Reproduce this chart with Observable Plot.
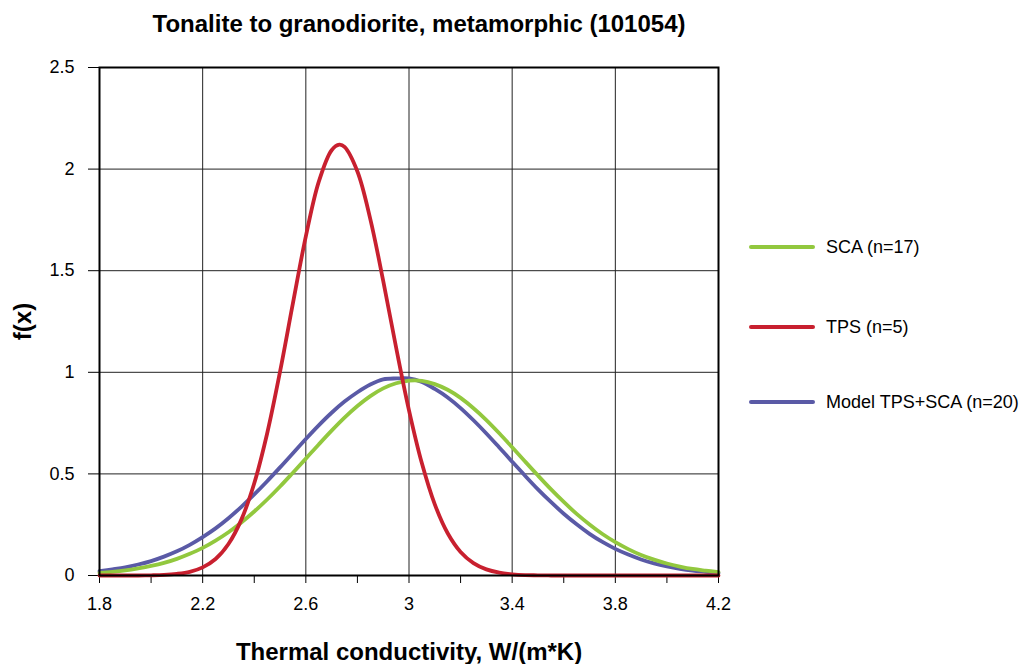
<!DOCTYPE html>
<html>
<head>
<meta charset="utf-8">
<script src="https://cdn.jsdelivr.net/npm/d3@7"></script>
<script src="https://cdn.jsdelivr.net/npm/@observablehq/plot@0.6"></script>
<style>
  html, body { margin: 0; padding: 0; background: #fff; }
  body { font-family: "Liberation Sans", Arial, Helvetica, sans-serif; }
  #wrap { position: relative; width: 1026px; height: 664px; overflow: hidden; }
  #title { position: absolute; left: 0; top: 9px; width: 838px; text-align: center;
           font-weight: bold; font-size: 24px; line-height: 30px; color: #000; }
  #chart { position: absolute; left: 0; top: 45px; }
  .leg { position: absolute; left: 749px; height: 18px; }
  .leg .sw { position: absolute; left: 0; top: 7px; width: 66px; height: 4px; border-radius: 2px; }
  .leg .lb { position: absolute; left: 77px; top: -3px; white-space: nowrap; font-size: 18px; line-height: 24px; color: #000; }
</style>
</head>
<body>
<div id="wrap">
  <div id="title"></div>
  <div id="chart"></div>
  <div id="legend"></div>
</div>
<script>
// ---- data ----
const title = "Tonalite to granodiorite, metamorphic (101054)";
const xLabel = "Thermal conductivity, W/(m*K)";
const yLabel = "f(x)";

const seriesNames = ["SCA (n=17)", "TPS (n=5)", "Model TPS+SCA (n=20)"];
const seriesColors = ["#92c83e", "#c8202f", "#5a5aa6"];

const xGrid = [1.8, 1.85, 1.9, 1.95, 2.0, 2.05, 2.1, 2.15, 2.2, 2.25, 2.3, 2.35, 2.4, 2.45, 2.5, 2.55, 2.6, 2.65, 2.7, 2.75,
  2.8, 2.85, 2.9, 2.95, 3.0, 3.05, 3.1, 3.15, 3.2, 3.25, 3.3, 3.35, 3.4, 3.45, 3.5, 3.55, 3.6, 3.65, 3.7, 3.75,
  3.8, 3.85, 3.9, 3.95, 4.0, 4.05, 4.1, 4.15, 4.2];

const scaY = [0.013, 0.018, 0.025, 0.035, 0.047, 0.062, 0.082, 0.107, 0.136, 0.172, 0.213, 0.261, 0.315, 0.374, 0.438, 0.506, 0.575, 0.645, 0.713, 0.777,
  0.834, 0.883, 0.921, 0.946, 0.959, 0.958, 0.942, 0.914, 0.874, 0.823, 0.765, 0.700, 0.631, 0.561, 0.492, 0.425, 0.362, 0.303, 0.251, 0.204,
  0.164, 0.130, 0.101, 0.078, 0.059, 0.044, 0.032, 0.024, 0.017];

const modelY = [0.021, 0.030, 0.040, 0.054, 0.071, 0.093, 0.119, 0.151, 0.189, 0.232, 0.282, 0.338, 0.399, 0.464, 0.532, 0.602, 0.672, 0.739, 0.801, 0.856,
  0.902, 0.940, 0.965, 0.970, 0.970, 0.952, 0.918, 0.876, 0.824, 0.764, 0.699, 0.630, 0.560, 0.491, 0.424, 0.362, 0.304, 0.252, 0.205, 0.165,
  0.131, 0.103, 0.079, 0.060, 0.045, 0.033, 0.024, 0.018, 0.012];

const tpsX = [1.8, 1.85, 1.9, 1.95, 2.0, 2.05, 2.1, 2.15, 2.2, 2.25, 2.3, 2.35, 2.4, 2.45, 2.5, 2.55, 2.6, 2.65, 2.7, 2.73, 2.75,
  2.8, 2.85, 2.9, 2.95, 3.0, 3.05, 3.1, 3.15, 3.2, 3.25, 3.3, 3.35, 3.4, 3.45, 3.5, 3.55, 3.6, 3.7, 3.8, 3.9, 4.0, 4.1, 4.2];
const tpsY = [0, 0, 0, 0, 0.001, 0.003, 0.008, 0.018, 0.040, 0.081, 0.155, 0.275, 0.454, 0.699, 1.003, 1.340, 1.669, 1.937, 2.093, 2.120, 2.109,
  1.988, 1.754, 1.450, 1.122, 0.813, 0.552, 0.350, 0.208, 0.116, 0.061, 0.030, 0.014, 0.006, 0.002, 0.001, 0, 0, 0, 0, 0, 0, 0, 0];

const xMinorTicks = [1.8, 2.0, 2.2, 2.4, 2.6, 2.8, 3.0, 3.2, 3.4, 3.6, 3.8, 4.0, 4.2];
const xMajorTicks = [1.8, 2.2, 2.6, 3, 3.4, 3.8, 4.2];
const yTicks = [0, 0.5, 1, 1.5, 2, 2.5];

// ---- build table ----
const rows = [];
xGrid.forEach((x, i) => rows.push({series: seriesNames[2], x, y: modelY[i]}));
xGrid.forEach((x, i) => rows.push({series: seriesNames[0], x, y: scaY[i]}));
tpsX.forEach((x, i) => rows.push({series: seriesNames[1], x, y: tpsY[i]}));

document.getElementById("title").textContent = title;

const font = "'Liberation Sans', Arial, Helvetica, sans-serif";

const chart = Plot.plot({
  width: 1026,
  height: 619,
  marginLeft: 99,
  marginRight: 308,
  marginTop: 22,
  marginBottom: 89,
  style: {fontFamily: font, fontSize: "18px", color: "#000", background: "#fff"},
  x: {domain: [1.8, 4.2], label: null},
  y: {domain: [0, 2.5], label: null},
  color: {domain: seriesNames, range: seriesColors},
  marks: [
    Plot.gridX(xMajorTicks, {stroke: "#222", strokeOpacity: 1, strokeWidth: 1}),
    Plot.gridY(yTicks, {stroke: "#222", strokeOpacity: 1, strokeWidth: 1}),
    Plot.axisX(xMinorTicks, {tickSize: 8, tickFormat: () => "", stroke: "#000", strokeWidth: 1, label: null}),
    Plot.axisX(xMajorTicks, {tickSize: 0, tickPadding: 22, tickFormat: d => String(d), fontSize: 18, label: null}),
    Plot.axisY(yTicks, {tickSize: 11, tickPadding: 14, tickFormat: d => String(d), fontSize: 18, stroke: "#000", label: null}),
    Plot.line(rows, {x: "x", y: "y", z: "series", stroke: "series", strokeWidth: 3.8, curve: "catmull-rom"}),
    Plot.frame({stroke: "#000", strokeWidth: 2}),
    Plot.text([xLabel], {frameAnchor: "bottom", dy: 77, lineAnchor: "middle", textAnchor: "middle", fontSize: 24, fontWeight: "bold", fill: "#000"}),
    Plot.text([yLabel], {frameAnchor: "left", dx: -76, textAnchor: "middle", lineAnchor: "middle", rotate: -90, fontSize: 24, fontWeight: "bold", fill: "#000"})
  ]
});
document.getElementById("chart").appendChild(chart);

// ---- legend ----
const legendTops = [238, 318, 393];
const legend = document.getElementById("legend");
seriesNames.forEach((name, i) => {
  const item = document.createElement("div");
  item.className = "leg";
  item.style.top = legendTops[i] + "px";
  const sw = document.createElement("div");
  sw.className = "sw";
  sw.style.background = seriesColors[i];
  const lb = document.createElement("div");
  lb.className = "lb";
  lb.textContent = name;
  item.appendChild(sw);
  item.appendChild(lb);
  legend.appendChild(item);
});
</script>
</body>
</html>
